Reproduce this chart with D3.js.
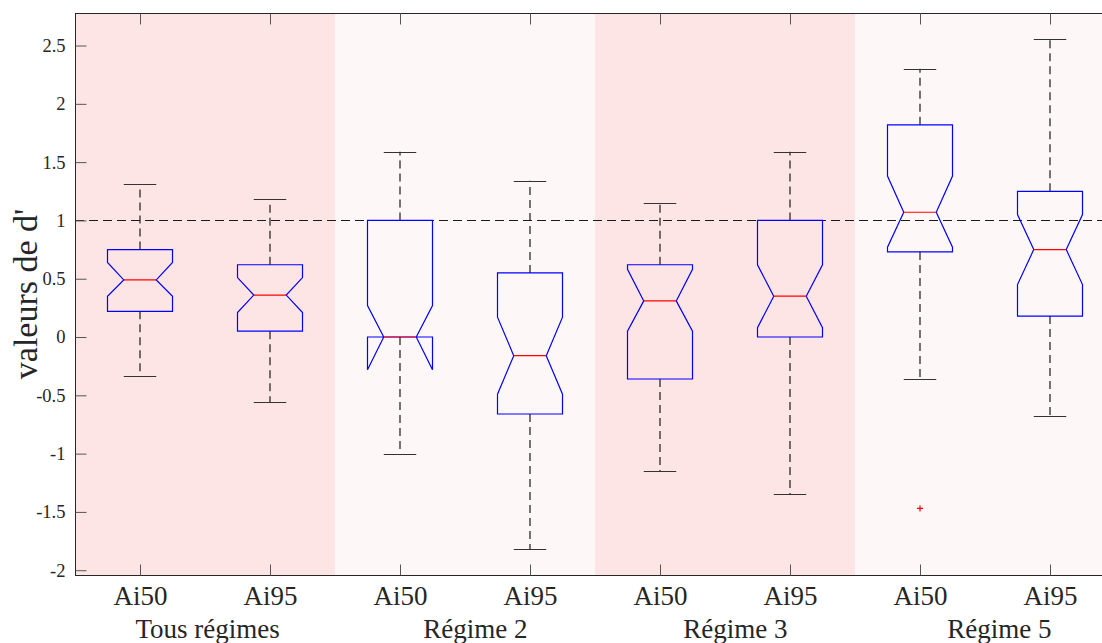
<!DOCTYPE html>
<html>
<head>
<meta charset="utf-8">
<script src="https://cdn.jsdelivr.net/npm/d3@7"></script>
<style>
  html, body { margin: 0; padding: 0; background: #ffffff; }
  svg { display: block; }
  text { font-family: "Liberation Serif", "Times New Roman", serif; fill: #262626; }
</style>
</head>
<body>
<svg id="chart" width="1102" height="643"></svg>
<script>
// ---- data ----
const categories   = ["Ai50", "Ai95", "Ai50", "Ai95", "Ai50", "Ai95", "Ai50", "Ai95"];
const groups       = ["Tous régimes", "Régime 2", "Régime 3", "Régime 5"];
const groupLabelPos = [1.52, 3.58, 5.58, 7.61];
const upperWhisker = [1.31, 1.18, 1.59, 1.34, 1.15, 1.59, 2.30, 2.56];
const q3           = [0.75, 0.62, 1.00, 0.55, 0.62, 1.00, 1.82, 1.25];
const notchHigh    = [0.64, 0.51, 0.27, 0.17, 0.58, 0.62, 1.38, 1.05];
const medians      = [0.49, 0.36, 0.00, -0.16, 0.31, 0.35, 1.07, 0.75];
const notchLow     = [0.35, 0.21, -0.28, -0.49, 0.05, 0.08, 0.77, 0.45];
const q1           = [0.22, 0.05, 0.00, -0.66, -0.36, 0.00, 0.73, 0.18];
const lowerWhisker = [-0.33, -0.56, -1.00, -1.82, -1.15, -1.35, -0.36, -0.68];
const outlierIdx   = [6];
const outlierVal   = [-1.47];
const yTicks       = [-2, -1.5, -1, -0.5, 0, 0.5, 1, 1.5, 2, 2.5];
const yTickLabels  = ["-2", "-1.5", "-1", "-0.5", "0", "0.5", "1", "1.5", "2", "2.5"];
const refLine      = 1;
const bandColors   = ["#fde5e5", "#fdf8f7", "#fde5e5", "#fdf8f7"];
const yLabel       = "valeurs de d'";

// ---- layout ----
const W = 1102, H = 643;
const pLeft = 75, pTop = 13, pBottom = 575, pRightFull = 1115;
const svg = d3.select("#chart");

const x = d3.scaleLinear().domain([0.5, 8.5]).range([pLeft, pRightFull]);
const y = d3.scaleLinear().domain([-2.041, 2.779]).range([pBottom, pTop]);
const boxW = x(1.25) - x(1);      // half of 0.5 width
const ax = "#262626";
const serif = '"Liberation Serif", "Times New Roman", serif';

// bands
svg.append("g").selectAll("rect").data(groups).join("rect")
  .attr("x", (d, i) => x(2 * i + 0.5))
  .attr("y", pTop)
  .attr("width", x(2.5) - x(0.5))
  .attr("height", pBottom - pTop)
  .attr("fill", (d, i) => bandColors[i]);

// reference line
svg.append("line")
  .attr("x1", pLeft).attr("x2", W)
  .attr("y1", Math.round(y(refLine)) + 0.5).attr("y2", Math.round(y(refLine)) + 0.5)
  .attr("stroke", "#1a1a1a").attr("stroke-width", 1.2)
  .attr("stroke-dasharray", "9,5");

// boxes
const idx = d3.range(categories.length);
const g = svg.append("g");
idx.forEach(i => {
  const cx = x(i + 1);
  const L = cx - boxW, R = cx + boxW, iL = cx - boxW / 2, iR = cx + boxW / 2;
  // whiskers
  g.append("line").attr("x1", cx).attr("x2", cx)
    .attr("y1", y(q3[i])).attr("y2", y(upperWhisker[i]))
    .attr("stroke", "#1a1a1a").attr("stroke-width", 1.2).attr("stroke-dasharray", "8,5");
  g.append("line").attr("x1", cx).attr("x2", cx)
    .attr("y1", y(q1[i])).attr("y2", y(lowerWhisker[i]))
    .attr("stroke", "#1a1a1a").attr("stroke-width", 1.2).attr("stroke-dasharray", "8,5");
  // caps
  [upperWhisker[i], lowerWhisker[i]].forEach(v => {
    g.append("line").attr("x1", iL).attr("x2", iR)
      .attr("y1", Math.round(y(v)) + 0.5).attr("y2", Math.round(y(v)) + 0.5)
      .attr("stroke", "#333").attr("stroke-width", 1.2);
  });
  // notched box
  const pts = [
    [L, y(q1[i])], [L, y(notchLow[i])], [iL, y(medians[i])], [L, y(notchHigh[i])],
    [L, y(q3[i])], [R, y(q3[i])], [R, y(notchHigh[i])], [iR, y(medians[i])],
    [R, y(notchLow[i])], [R, y(q1[i])]
  ];
  g.append("path")
    .attr("d", d3.line()(pts) + "Z")
    .attr("fill", "none").attr("stroke", "#0000ff").attr("stroke-width", 1.2);
  // median
  g.append("line").attr("x1", iL).attr("x2", iR)
    .attr("y1", y(medians[i])).attr("y2", y(medians[i]))
    .attr("stroke", "#ff0000").attr("stroke-width", 1.2);
});

// outliers
outlierIdx.forEach((ci, k) => {
  const cx = x(ci + 1), cy = y(outlierVal[k]);
  g.append("path")
    .attr("d", `M${cx - 3},${cy}H${cx + 3}M${cx},${cy - 3}V${cy + 3}`)
    .attr("stroke", "#ff0000").attr("stroke-width", 1.2);
});

// axes frame
svg.append("line").attr("x1", pLeft + 0.5).attr("x2", pLeft + 0.5).attr("y1", pTop).attr("y2", pBottom + 0.5)
  .attr("stroke", ax).attr("stroke-width", 1);
svg.append("line").attr("x1", pLeft).attr("x2", W).attr("y1", pBottom + 0.5).attr("y2", pBottom + 0.5)
  .attr("stroke", ax).attr("stroke-width", 1);
svg.append("line").attr("x1", pLeft).attr("x2", W).attr("y1", pTop + 0.5).attr("y2", pTop + 0.5)
  .attr("stroke", ax).attr("stroke-width", 1);

// y ticks
const yAxis = d3.axisLeft(y).tickValues(yTicks)
  .tickFormat((d, i) => yTickLabels[i]).tickSizeInner(-11).tickSizeOuter(0).tickPadding(10);
const yg = svg.append("g").attr("transform", `translate(${pLeft + 0.5},0)`).call(yAxis)
  .attr("font-family", serif);
yg.select(".domain").remove();
yg.selectAll(".tick line").attr("stroke", "#555");
yg.selectAll(".tick text").attr("font-size", 18.5).attr("fill", ax)
  .style("font-family", serif);

// x ticks (bottom and top)
const xAxisB = d3.axisBottom(x).tickValues(idx.map(i => i + 1))
  .tickFormat((d, i) => categories[i]).tickSizeInner(-11).tickSizeOuter(0);
const xb = svg.append("g").attr("transform", `translate(0,${pBottom + 0.5})`).call(xAxisB)
  .attr("font-family", serif);
xb.select(".domain").remove();
xb.selectAll(".tick line").attr("stroke", "#555");
xb.selectAll(".tick text").attr("font-size", 27).attr("fill", ax)
  .attr("y", 29.5).attr("dy", null)
  .style("font-family", serif);

const xAxisT = d3.axisTop(x).tickValues(idx.map(i => i + 1))
  .tickFormat("").tickSizeInner(-11).tickSizeOuter(0);
const xt = svg.append("g").attr("transform", `translate(0,${pTop + 0.5})`).call(xAxisT);
xt.select(".domain").remove();
xt.selectAll(".tick line").attr("stroke", "#555");

// group labels
svg.append("g").selectAll("text").data(groups).join("text")
  .attr("x", (d, i) => x(groupLabelPos[i]))
  .attr("y", 638)
  .attr("text-anchor", "middle")
  .attr("font-size", 27)
  .style("font-family", serif)
  .text(d => d);

// y label
svg.append("text")
  .attr("transform", `translate(37,${(pTop + pBottom) / 2}) rotate(-90)`)
  .attr("text-anchor", "middle")
  .attr("font-size", 34)
  .style("font-family", serif)
  .text(yLabel);
</script>
</body>
</html>
